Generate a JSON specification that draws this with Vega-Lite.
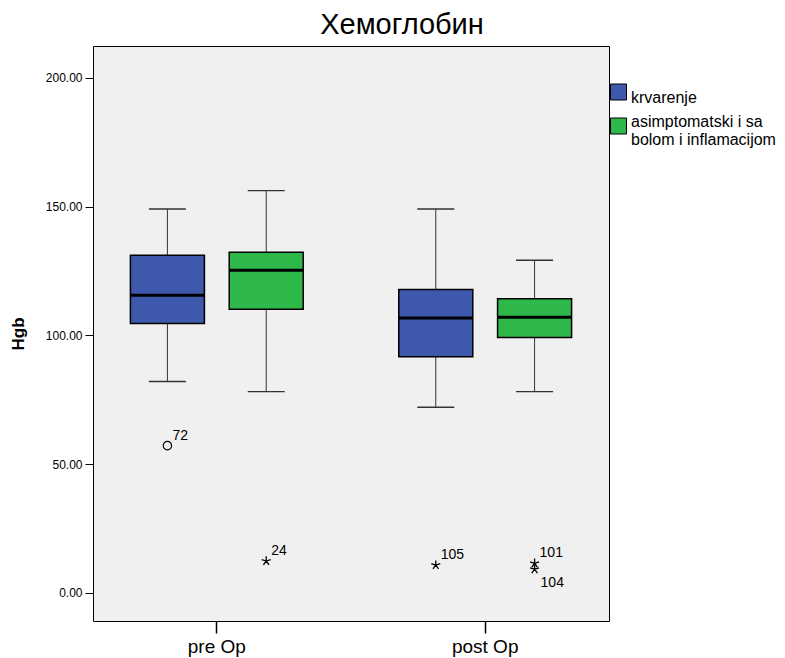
{
  "$schema": "https://vega.github.io/schema/vega-lite/v6.json",
  "autosize": {"type": "none"},
  "padding": {"left": 93, "top": 46, "right": 176, "bottom": 37},
  "width": 516,
  "height": 575,
  "background": "white",
  "config": {
    "font": "Liberation Sans",
    "view": {"fill": "#F0F0F0", "stroke": "black", "strokeWidth": 1}
  },
  "title": {"text": "Хемоглобин", "fontSize": 29, "fontWeight": "normal", "font": "Liberation Sans", "color": "black", "anchor": "middle", "dx": 51, "offset": 6},
  "datasets": {
    "boxes": [
      {"op": "pre Op", "group": "krvarenje", "lower": 82.1, "q1": 104.6, "median": 115.6, "q3": 131.1, "upper": 149.1},
      {"op": "pre Op", "group": "asimptomatski i sa bolom i inflamacijom", "lower": 78.2, "q1": 110.2, "median": 125.3, "q3": 132.3, "upper": 156.2},
      {"op": "post Op", "group": "krvarenje", "lower": 72.1, "q1": 91.7, "median": 106.8, "q3": 117.8, "upper": 149.1},
      {"op": "post Op", "group": "asimptomatski i sa bolom i inflamacijom", "lower": 78.2, "q1": 99.2, "median": 107.1, "q3": 114.2, "upper": 129.2}
    ],
    "outliers": [
      {"op": "pre Op", "group": "krvarenje", "value": 57.2, "id": "72", "kind": "circle"},
      {"op": "pre Op", "group": "asimptomatski i sa bolom i inflamacijom", "value": 12.4, "id": "24", "kind": "star"},
      {"op": "post Op", "group": "krvarenje", "value": 10.8, "id": "105", "kind": "star"},
      {"op": "post Op", "group": "asimptomatski i sa bolom i inflamacijom", "value": 11.5, "id": "101", "kind": "star"},
      {"op": "post Op", "group": "asimptomatski i sa bolom i inflamacijom", "value": 9.2, "id": "104", "kind": "star"}
    ]
  },
  "encoding": {
    "x": {
      "field": "op", "type": "nominal", "sort": ["pre Op", "post Op"],
      "scale": {"paddingInner": 0.2636, "paddingOuter": 0.0932},
      "axis": {"title": null, "labelAngle": 0, "labelFontSize": 19, "labelColor": "black", "tickSize": 12, "tickColor": "black", "tickWidth": 1.5, "domain": false, "labelPadding": 4}
    },
    "xOffset": {
      "field": "group", "type": "nominal", "sort": ["krvarenje", "asimptomatski i sa bolom i inflamacijom"],
      "scale": {"paddingInner": 0.251, "paddingOuter": 0.1255}
    }
  },
  "layer": [
    {
      "data": {"name": "boxes"},
      "mark": {"type": "rule", "color": "#333333", "strokeWidth": 1},
      "encoding": {
        "y": {"field": "lower", "type": "quantitative",
          "scale": {"domain": [-10.9, 212.4], "nice": false, "zero": false},
          "axis": {"title": "Hgb", "titleFontSize": 17, "titleFontWeight": "bold", "titleColor": "black", "titlePadding": 18, "values": [0, 50, 100, 150, 200], "format": ".2f", "labelFontSize": 12, "labelColor": "black", "tickSize": 8, "tickColor": "black", "domain": false, "grid": false, "labelPadding": 3}},
        "y2": {"field": "upper"}
      }
    },
    {
      "data": {"name": "boxes"},
      "mark": {"type": "tick", "color": "#333333", "size": 37, "thickness": 1.3, "orient": "horizontal", "opacity": 1},
      "encoding": {"y": {"field": "lower", "type": "quantitative"}}
    },
    {
      "data": {"name": "boxes"},
      "mark": {"type": "tick", "color": "#333333", "size": 37, "thickness": 1.3, "orient": "horizontal", "opacity": 1},
      "encoding": {"y": {"field": "upper", "type": "quantitative"}}
    },
    {
      "data": {"name": "boxes"},
      "mark": {"type": "bar", "stroke": "black", "strokeWidth": 1.5, "opacity": 1},
      "encoding": {
        "y": {"field": "q1", "type": "quantitative"},
        "y2": {"field": "q3"},
        "color": {
          "field": "group", "type": "nominal", "sort": ["krvarenje", "asimptomatski i sa bolom i inflamacijom"],
          "scale": {"domain": ["krvarenje", "asimptomatski i sa bolom i inflamacijom"], "range": ["#3E58AC", "#2EB84A"]},
          "legend": {
            "title": null, "orient": "none", "legendX": 517, "legendY": 37.5,
            "symbolType": "square", "symbolSize": 256, "symbolStrokeColor": "black", "symbolStrokeWidth": 1, "symbolOpacity": 1,
            "labelFontSize": 16, "labelColor": "black", "labelOffset": 4, "rowPadding": 7, "labelLimit": 300,
            "labelExpr": "datum.label == 'krvarenje' ? datum.label : ['asimptomatski i sa', 'bolom i inflamacijom']",
            "encode": {"labels": {"update": {"dy": {"signal": "datum.label == 'krvarenje' ? 6 : -4"}}}}
          }
        }
      }
    },
    {
      "data": {"name": "boxes"},
      "mark": {"type": "tick", "color": "black", "size": 74, "thickness": 3, "orient": "horizontal", "opacity": 1},
      "encoding": {"y": {"field": "median", "type": "quantitative"}}
    },
    {
      "data": {"name": "outliers"},
      "transform": [{"filter": "datum.kind == 'circle'"}],
      "mark": {"type": "point", "shape": "circle", "filled": false, "stroke": "black", "strokeWidth": 1.2, "size": 70, "opacity": 1},
      "encoding": {"y": {"field": "value", "type": "quantitative"}}
    },
    {
      "data": {"name": "outliers"},
      "transform": [{"filter": "datum.kind == 'star'"}],
      "mark": {"type": "point", "shape": "M0,-1L0,0.15M0,0L0.95,-0.31M0,0L0.59,0.81M0,0L-0.59,0.81M0,0L-0.95,-0.31", "filled": false, "stroke": "black", "strokeWidth": 1.3, "size": 90, "opacity": 1},
      "encoding": {"y": {"field": "value", "type": "quantitative"}}
    },
    {
      "data": {"name": "outliers"},
      "transform": [{"filter": "datum.id != '104'"}],
      "mark": {"type": "text", "align": "left", "baseline": "alphabetic", "dx": 5, "dy": -6, "fontSize": 14, "color": "black"},
      "encoding": {"y": {"field": "value", "type": "quantitative"}, "text": {"field": "id"}}
    },
    {
      "data": {"name": "outliers"},
      "transform": [{"filter": "datum.id == '104'"}],
      "mark": {"type": "text", "align": "left", "baseline": "alphabetic", "dx": 6, "dy": 18, "fontSize": 14, "color": "black"},
      "encoding": {"y": {"field": "value", "type": "quantitative"}, "text": {"field": "id"}}
    }
  ]
}
